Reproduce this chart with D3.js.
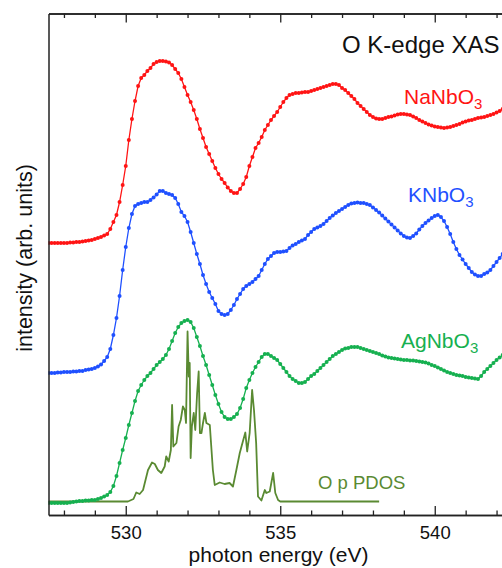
<!DOCTYPE html>
<html>
<head>
<meta charset="utf-8">
<script src="https://cdn.jsdelivr.net/npm/d3@7"></script>
<style>
  body { margin: 0; background: #fff; }
  svg { display: block; font-family: "Liberation Sans", Arial, sans-serif; }
</style>
</head>
<body>
<svg id="chart"></svg>
<script>
// measured spectra, sampled every 0.1 eV from 527.5 eV (arb. units)
const eStart = 527.5;
const eStep = 0.1;

const naNbO3 = [
  54.4,54.4,54.4,54.4,54.4,54.4,54.4,54.5,54.5,54.6,
  54.6,54.7,54.8,54.9,55.0,55.2,55.4,55.6,55.9,56.2,
  57.2,58.6,60.0,62.6,66.0,69.8,75.0,79.2,82.8,85.8,
  87.4,88.0,88.8,89.4,90.2,90.6,90.8,90.8,90.7,90.5,
  90.0,89.2,88.4,87.2,85.6,84.0,82.6,81.0,79.2,77.2,
  75.4,73.6,72.2,70.8,69.4,68.2,67.2,66.4,65.5,64.8,
  64.4,64.4,65.2,66.2,67.6,69.8,71.6,73.4,74.4,75.6,
  77.0,78.0,79.0,79.8,80.6,81.6,82.6,83.4,84.0,84.2,
  84.4,84.4,84.5,84.6,84.6,84.8,85.0,85.2,85.4,85.6,
  85.8,86.0,86.2,86.2,86.0,85.4,85.0,84.4,83.8,83.2,
  82.4,81.8,81.2,80.6,80.0,79.6,79.3,79.2,79.2,79.4,
  79.6,79.7,79.9,80.1,80.2,80.2,80.1,80.0,79.7,79.4,
  79.0,78.7,78.4,78.1,77.9,77.7,77.6,77.5,77.4,77.5,
  77.6,77.8,78.0,78.2,78.5,78.7,78.9,79.0,79.2,79.4,
  79.5,79.6,79.8,80.0,80.2,80.5,80.8,81.2
];

const kNbO3 = [
  28.4,28.4,28.4,28.5,28.5,28.6,28.6,28.6,28.7,28.7,
  28.8,28.8,29.0,29.1,29.2,29.4,29.7,30.1,30.8,31.6,
  33.2,36.0,39.4,43.8,49.0,53.6,57.4,60.2,61.8,62.2,
  62.4,62.6,62.6,63.0,63.5,64.1,64.8,64.8,64.4,64.2,
  64.0,63.4,62.2,60.6,59.8,58.6,56.6,54.4,52.2,50.2,
  48.0,46.2,44.6,43.4,42.2,40.8,40.2,40.0,40.2,41.0,
  42.0,43.2,44.2,45.2,45.8,46.2,46.6,47.2,47.8,49.0,
  50.2,51.2,51.8,52.4,52.6,52.6,52.7,52.8,53.4,53.9,
  54.2,54.6,54.9,55.2,56.0,56.6,57.2,57.5,57.8,58.2,
  58.8,59.4,59.9,60.4,60.8,61.2,61.6,62.0,62.3,62.4,
  62.5,62.4,62.4,62.2,62.0,61.5,61.0,60.5,59.9,59.3,
  58.7,58.1,57.5,56.9,56.3,55.8,55.5,55.4,55.8,56.3,
  57.1,57.8,58.4,58.9,59.4,59.8,60.0,59.6,58.8,57.6,
  56.2,54.6,53.2,52.0,51.1,50.2,49.4,48.6,48.1,47.8,
  47.8,48.2,48.5,49.0,49.8,50.6,51.4,52.2
];

const agNbO3 = [
  2.4,2.4,2.4,2.4,2.4,2.4,2.4,2.5,2.6,2.7,
  2.8,2.8,2.9,2.9,3.0,3.0,3.2,3.4,3.7,4.0,
  4.6,5.8,7.8,10.4,13.0,15.4,18.0,20.4,22.8,24.8,
  26.0,27.0,27.8,28.4,29.2,30.0,30.6,31.2,32.0,33.2,
  34.8,36.4,37.6,38.4,38.8,39.0,38.6,37.4,35.6,33.8,
  31.8,30.0,28.0,26.0,24.0,22.2,20.6,19.6,19.2,19.2,
  19.6,20.2,21.4,23.2,25.4,27.0,28.4,29.6,30.6,31.6,
  32.2,32.2,31.8,31.4,31.0,30.2,29.4,28.6,27.8,27.2,
  26.8,26.4,26.4,26.6,27.2,27.8,28.2,28.8,29.4,30.0,
  30.6,31.2,31.8,32.2,32.6,33.0,33.3,33.4,33.6,33.6,
  33.6,33.4,33.2,33.0,32.8,32.6,32.4,32.2,31.9,31.7,
  31.5,31.4,31.3,31.2,31.1,31.0,31.0,30.9,30.9,30.8,
  30.7,30.6,30.5,30.3,30.0,29.8,29.5,29.2,28.9,28.6,
  28.4,28.2,28.0,27.9,27.8,27.6,27.5,27.4,27.3,27.2,
  27.8,28.6,29.2,29.8,30.4,31.0,31.5,32.0
];

// calculated O p partial DOS (irregular energy grid)
const pdosE = [
  527.5,530.07,530.25,530.34,530.45,530.56,530.72,530.85,530.94,531.04,
  531.15,531.26,531.31,531.39,531.46,531.5,531.54,531.64,531.71,531.78,
  531.85,531.91,531.95,532.0,532.04,532.07,532.1,532.14,532.2,532.25,
  532.31,532.36,532.4,532.45,532.5,532.56,532.61,532.72,532.82,532.88,
  533.04,533.2,533.36,533.47,533.58,533.69,533.79,533.87,533.93,534.01,
  534.09,534.15,534.22,534.28,534.39,534.5,534.55,534.66,534.77,534.84,
  534.93,535.0,538.2
];
const pdosV = [
  2.7,2.7,3.2,4.5,4.2,5.0,9.0,10.5,10.2,9.0,
  8.4,9.7,11.7,10.7,13.0,22.0,13.7,14.4,17.7,19.0,
  21.7,21.0,18.4,36.7,27.7,30.4,11.4,17.7,20.4,17.0,
  24.4,28.7,16.4,16.4,18.4,20.4,18.4,18.0,9.0,6.0,
  6.5,6.2,6.4,5.7,9.0,12.4,14.7,16.5,12.7,16.4,
  25.0,21.0,14.4,3.7,2.9,5.0,4.4,4.7,8.4,4.4,
  3.0,2.7,2.7
];

const majorTicks = [530, 535, 540];
const minorTicks = [528, 529, 531, 532, 533, 534, 536, 537, 538, 539, 541, 542, 543];

const series = [
  { name: 'NaNbO', values: naNbO3, color: '#ff1414', label: [404, 104] },
  { name: 'KNbO',  values: kNbO3,  color: '#1f50ff', label: [408, 202] },
  { name: 'AgNbO', values: agNbO3, color: '#16b050', label: [401, 348] }
];
const pdosColor = '#5a8a32';

const W = 502, H = 568;
const margin = { top: 13.5, left: 48.5, bottom: 53 };

const svg = d3.select('#chart').attr('width', W).attr('height', H);

// scales: 30.9 px per eV, right edge runs past the window
const x = d3.scaleLinear().domain([527.5, 543]).range([margin.left, margin.left + 15.5 * 30.9]);
const y = d3.scaleLinear().domain([0, 100.3]).range([H - margin.bottom, margin.top]);
const yBottom = H - margin.bottom;

svg.append('clipPath').attr('id', 'plot-clip')
  .append('rect')
    .attr('x', x.range()[0]).attr('y', margin.top)
    .attr('width', x.range()[1] - x.range()[0]).attr('height', yBottom - margin.top);

const plot = svg.append('g').attr('clip-path', 'url(#plot-clip)');

// PDOS under the spectra
const pdos = pdosE.map((e, i) => [e, pdosV[i]]);
plot.append('path')
  .datum(pdos)
  .attr('fill', 'none')
  .attr('stroke', pdosColor)
  .attr('stroke-width', 1.8)
  .attr('stroke-linejoin', 'round')
  .attr('d', d3.line().x(d => x(d[0])).y(d => y(d[1])));

const line = d3.line().x(d => x(d[0])).y(d => y(d[1]));

series.forEach(s => {
  const pts = s.values.map((v, i) => [eStart + i * eStep, v]);
  const g = plot.append('g');
  g.append('path')
    .datum(pts)
    .attr('fill', 'none')
    .attr('stroke', s.color)
    .attr('stroke-width', 1.3)
    .attr('d', line);
  g.selectAll('circle')
    .data(pts)
    .join('circle')
      .attr('cx', d => x(d[0]))
      .attr('cy', d => y(d[1]))
      .attr('r', 2)
      .attr('fill', s.color);
});

// axes / frame
const axisColor = '#222';
function styleAxis(g) {
  g.select('.domain').attr('stroke', axisColor).attr('stroke-width', 1.5);
  g.selectAll('.tick line').attr('stroke', axisColor).attr('stroke-width', 1.3);
}

svg.append('g')
  .attr('transform', `translate(0,${yBottom})`)
  .call(d3.axisBottom(x).tickValues(majorTicks).tickSizeInner(-9).tickSizeOuter(0).tickPadding(11).tickFormat(d3.format('d')))
  .call(styleAxis)
  .call(g => g.selectAll('.tick text').attr('fill', '#111').style('font-size', '18.5px').style('font-family', 'Liberation Sans, Arial, sans-serif'));

svg.append('g')
  .attr('transform', `translate(0,${yBottom})`)
  .call(d3.axisBottom(x).tickValues(minorTicks).tickSizeInner(-4.5).tickSizeOuter(0).tickFormat(''))
  .call(styleAxis);

svg.append('g')
  .attr('transform', `translate(0,${margin.top})`)
  .call(d3.axisTop(x).tickValues(majorTicks).tickSizeInner(-9).tickSizeOuter(0).tickFormat(''))
  .call(styleAxis);

svg.append('g')
  .attr('transform', `translate(0,${margin.top})`)
  .call(d3.axisTop(x).tickValues(minorTicks).tickSizeInner(-4.5).tickSizeOuter(0).tickFormat(''))
  .call(styleAxis);

svg.append('g')
  .attr('transform', `translate(${margin.left},0)`)
  .call(d3.axisLeft(y).tickValues([]).tickSizeOuter(0))
  .call(styleAxis);

// axis titles
svg.append('text')
  .attr('x', 278.5)
  .attr('y', 562)
  .attr('text-anchor', 'middle')
  .attr('fill', '#111')
  .style('font-size', '21px')
  .text('photon energy (eV)');

svg.append('text')
  .attr('transform', 'rotate(-90)')
  .attr('x', -258)
  .attr('y', 31.5)
  .attr('text-anchor', 'middle')
  .attr('fill', '#111')
  .style('font-size', '21.5px')
  .text('intensity (arb. units)');

// labels
svg.append('text')
  .attr('x', 342).attr('y', 53)
  .attr('fill', '#111')
  .style('font-size', '24px')
  .text('O K-edge XAS');

series.forEach(s => {
  const t = svg.append('text')
    .attr('x', s.label[0]).attr('y', s.label[1])
    .attr('fill', s.color)
    .style('font-size', '21px')
    .text(s.name);
  t.append('tspan')
    .attr('dy', 5)
    .style('font-size', '15px')
    .text('3');
});

svg.append('text')
  .attr('x', 318).attr('y', 489)
  .attr('fill', pdosColor)
  .style('font-size', '18.5px')
  .text('O p PDOS');
</script>
</body>
</html>
